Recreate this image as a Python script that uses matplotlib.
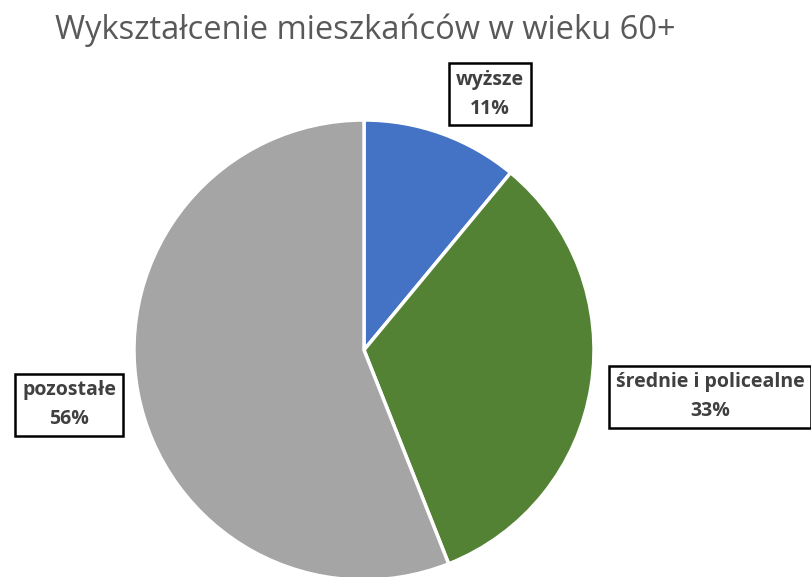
import matplotlib
matplotlib.use("Agg")
import matplotlib.pyplot as plt

title = "Wykształcenie mieszkańców w wieku 60+"
categories = ["wyższe", "średnie i policealne", "pozostałe"]
values = [11, 33, 56]
colors = ["#4472C4", "#548235", "#A5A5A5"]

W, H = 811, 577
fig = plt.figure(figsize=(W / 100, H / 100), dpi=100)
ax = fig.add_axes([0, 0, 1, 1])

cx, cy, r = 364, H - 350, 230
ax.pie(values, colors=colors, startangle=90, counterclock=False,
       center=(cx, cy), radius=r, frame=True,
       wedgeprops=dict(edgecolor="white", linewidth=2.5))
ax.set_xlim(0, W)
ax.set_ylim(0, H)
ax.set_aspect("auto")
ax.axis("off")

label_pos = [(490, H - 94), (710, H - 397), (69, H - 405)]
for cat, v, (x, y) in zip(categories, values, label_pos):
    ax.text(x, y, f"{cat}\n{v}%", ha="center", va="center", fontsize=14,
            fontweight="bold", color="#404040", family="Open Sans",
            linespacing=1.6,
            bbox=dict(boxstyle="square,pad=0.35", facecolor="white",
                      edgecolor="black", linewidth=1.8))

fig.text(55 / W, 1 - 30 / H, title, ha="left", va="center", fontsize=23.5,
         color="#595959", family="Open Sans")

fig.savefig("out.png", dpi=100)
